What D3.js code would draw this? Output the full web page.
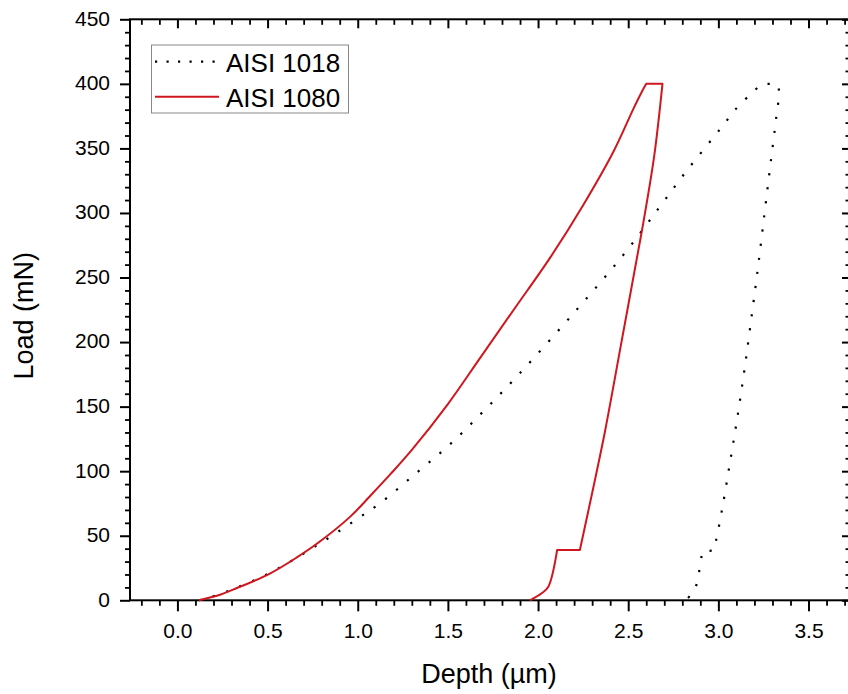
<!DOCTYPE html>
<html>
<head>
<meta charset="utf-8">
<script src="https://cdn.jsdelivr.net/npm/d3@7"></script>
<style>
    body { margin: 0; background: #fff; }
    text { font-family: "Liberation Sans", Arial, sans-serif; fill: #000; }
</style>
</head>
<body>
<svg id="chart" width="848" height="694"></svg>
<script>
// values: depth in µm, load in mN
const seriesNames = ["AISI 1018", "AISI 1080"];

const depth1018 = [0.12, 0.24, 0.33, 0.45, 0.587, 0.725, 0.855, 0.99, 1.123, 1.32, 1.521, 1.715, 1.9,
    2.195, 2.473, 2.676, 2.815, 2.935, 3.027, 3.1, 3.194, 3.24, 3.3, 3.323,
    3.336, 3.32, 3.29, 3.258, 3.218, 3.175, 3.138, 3.1, 3.06, 3.02, 2.985, 2.972,
    2.911, 2.9, 2.889, 2.87, 2.82];
const load1018 = [0, 5, 10, 17, 26.8, 38.4, 49.8, 62.4, 75.1, 98, 122, 149, 176,
    222, 267.5, 305, 331, 352, 368, 381, 394, 400, 400, 400,
    395, 373, 339, 302, 256, 210, 172, 137, 103, 70, 45, 38.5,
    38, 28, 19, 9, 0];
// indices where the curve has a sharp corner (hold at peak, hold at 40 mN)
const corners1018 = [21, 23, 35, 36];

const depth1080 = [0.12, 0.24, 0.33, 0.51, 0.66, 0.79, 0.96, 1.07, 1.18, 1.3, 1.5, 1.68, 1.87, 2.07,
    2.25, 2.42, 2.53, 2.58, 2.6, 2.69, 2.645, 2.587, 2.556, 2.46, 2.37, 2.306, 2.232, 2.106,
    2.057, 2.02, 1.955];
const load1080 = [0, 4.5, 9.5, 20.5, 33, 45.5, 65, 81, 97.5, 116.5, 152, 188, 226, 266,
    306, 348, 381, 395, 400, 400, 345, 295, 271, 198, 130, 87, 39, 39,
    10.5, 5.4, 0];
const corners1080 = [18, 19, 26, 27];

const depthMajor = [0, 0.5, 1, 1.5, 2, 2.5, 3, 3.5];
const loadMajor = [0, 50, 100, 150, 200, 250, 300, 350, 400, 450];

const svg = d3.select("#chart");
const plotLeft = 130, plotRight = 850, plotTop = 19.3, plotBottom = 600.3;

const x = d3.scaleLinear().domain([-0.263, 3.73]).range([plotLeft, plotRight]);
const y = d3.scaleLinear().domain([0, 450]).range([plotBottom, plotTop]);

const depthMinor = d3.range(-2, 38).map(i => i / 10).filter(v => Math.abs(v * 2 - Math.round(v * 2)) > 1e-6);
const loadMinor = d3.range(0, 451, 10).filter(v => v % 50 !== 0);

function styleAxis(g, width) {
    g.select(".domain").remove();
    g.selectAll(".tick line").attr("stroke", "#000").attr("stroke-width", width);
}

// bottom axis, ticks outward
svg.append("g").attr("transform", `translate(0,${plotBottom})`)
    .call(d3.axisBottom(x).tickValues(depthMinor).tickSize(5.5).tickFormat(""))
    .call(g => styleAxis(g, 1.8));
svg.append("g").attr("transform", `translate(0,${plotBottom})`)
    .call(d3.axisBottom(x).tickValues(depthMajor).tickSize(11).tickPadding(12).tickFormat(d3.format(".1f")))
    .call(g => styleAxis(g, 2))
    .selectAll("text").style("font-size", "21px").style("font-family", "Liberation Sans, Arial, sans-serif");

// left axis, ticks outward
svg.append("g").attr("transform", `translate(${plotLeft},0)`)
    .call(d3.axisLeft(y).tickValues(loadMinor).tickSize(5).tickFormat(""))
    .call(g => styleAxis(g, 1.8));
svg.append("g").attr("transform", `translate(${plotLeft},0)`)
    .call(d3.axisLeft(y).tickValues(loadMajor).tickSize(10).tickPadding(10))
    .call(g => styleAxis(g, 2))
    .selectAll("text").attr("dy", "0.28em").style("font-size", "21px").style("font-family", "Liberation Sans, Arial, sans-serif");

// top and right axes, ticks inward, no labels
svg.append("g").attr("transform", `translate(0,${plotTop})`)
    .call(d3.axisBottom(x).tickValues(depthMinor).tickSize(5.5).tickFormat(""))
    .call(g => styleAxis(g, 1.8));
svg.append("g").attr("transform", `translate(0,${plotTop})`)
    .call(d3.axisBottom(x).tickValues(depthMajor).tickSize(9).tickFormat(""))
    .call(g => styleAxis(g, 2));
svg.append("g").attr("transform", `translate(${plotRight},0)`)
    .call(d3.axisLeft(y).tickValues(loadMinor).tickSize(4.5).tickFormat(""))
    .call(g => styleAxis(g, 1.8));
svg.append("g").attr("transform", `translate(${plotRight},0)`)
    .call(d3.axisLeft(y).tickValues(loadMajor).tickSize(8).tickFormat(""))
    .call(g => styleAxis(g, 2));

// frame
svg.append("rect")
    .attr("x", plotLeft).attr("y", plotTop)
    .attr("width", plotRight - plotLeft).attr("height", plotBottom - plotTop)
    .attr("fill", "none").attr("stroke", "#000").attr("stroke-width", 2);

// smooth between corners, straight across the hold segments
function curvePath(depths, loads, corners) {
    const pts = d3.zip(depths, loads);
    const gen = d3.line().x(d => x(d[0])).y(d => y(d[1])).curve(d3.curveCatmullRom.alpha(0.5));
    const cuts = [0, ...corners, pts.length - 1];
    let path = "";
    for (let i = 0; i < cuts.length - 1; i++) {
        const s = gen(pts.slice(cuts[i], cuts[i + 1] + 1));
        path += i === 0 ? s : s.replace(/^M[^A-Za-z]*/, "");
    }
    return path;
}

svg.append("path")
    .attr("d", curvePath(depth1018, load1018, corners1018))
    .attr("fill", "none")
    .attr("stroke", "#000")
    .attr("stroke-width", 2.2)
    .attr("stroke-dasharray", "2.2,12");

svg.append("path")
    .attr("d", curvePath(depth1080, load1080, corners1080))
    .attr("fill", "none")
    .attr("stroke", "#d0161e")
    .attr("stroke-width", 2)
    .attr("stroke-linejoin", "round");

// legend
const legend = svg.append("g");
legend.append("rect")
    .attr("x", 151.5).attr("y", 45).attr("width", 197).attr("height", 68)
    .attr("fill", "#fff").attr("stroke", "#888").attr("stroke-width", 1);

const legendStyle = [
    {stroke: "#000", width: 2.2, dash: "2.2,9.3"},
    {stroke: "#d0161e", width: 2, dash: null}
];
seriesNames.forEach((name, i) => {
    const cy = 61.7 + i * 35;
    legend.append("line")
        .attr("x1", 155).attr("x2", 219).attr("y1", cy).attr("y2", cy)
        .attr("stroke", legendStyle[i].stroke)
        .attr("stroke-width", legendStyle[i].width)
        .attr("stroke-dasharray", legendStyle[i].dash);
    legend.append("text")
        .attr("x", 226).attr("y", cy + 9.8)
        .style("font-size", "26px")
        .text(name);
});

// axis titles
svg.append("text")
    .attr("x", (plotLeft + 848) / 2).attr("y", 683)
    .attr("text-anchor", "middle")
    .style("font-size", "27px")
    .text("Depth (µm)");

svg.append("text")
    .attr("transform", `translate(33,${(plotTop + plotBottom) / 2 + 6}) rotate(-90)`)
    .attr("text-anchor", "middle")
    .style("font-size", "27px")
    .text("Load (mN)");
</script>
</body>
</html>
